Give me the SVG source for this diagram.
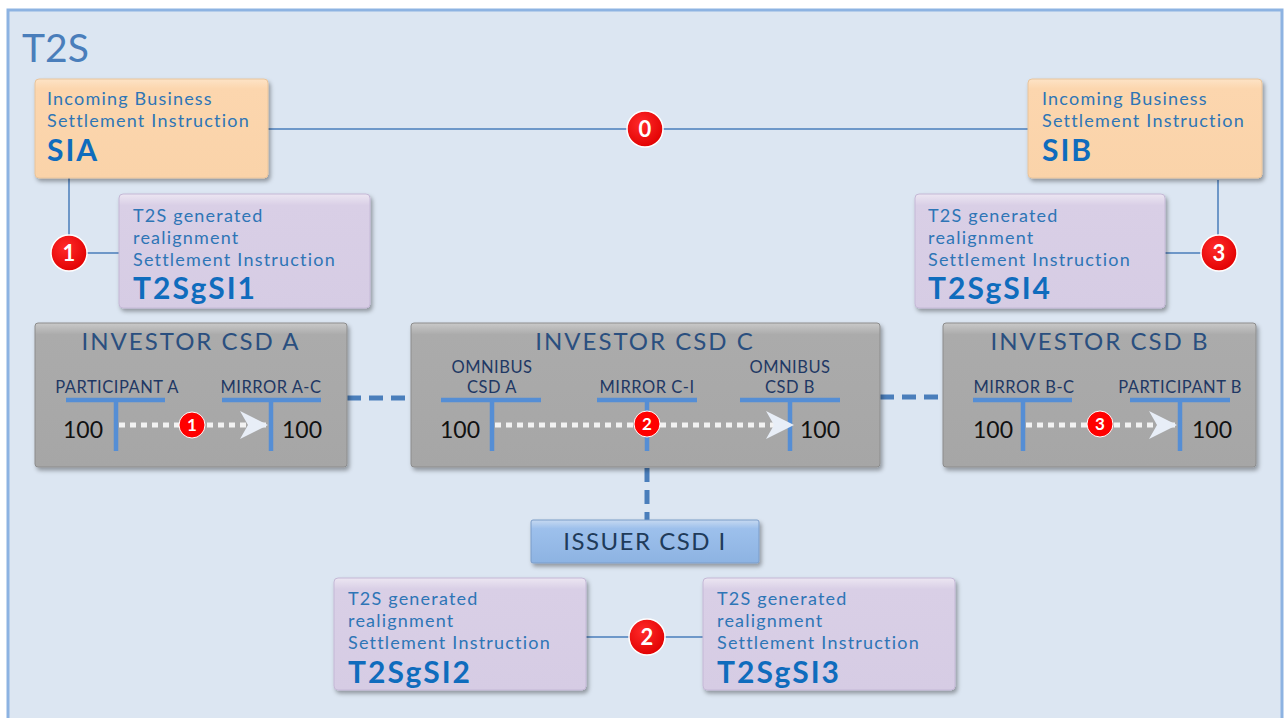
<svg xmlns="http://www.w3.org/2000/svg" width="1287" height="718" viewBox="0 0 1287 718">
<style>
.t{font-family:Lato,"Open Sans",sans-serif;fill:#2e75b6;font-size:18px;letter-spacing:1.2px}
.tb{font-family:Lato,"Open Sans",sans-serif;fill:#0f6cbd;font-size:30px;font-weight:bold;letter-spacing:2px}
.ttl{font-family:Lato,"Open Sans",sans-serif;fill:#2a4f7f;font-size:24px;letter-spacing:2px;text-anchor:middle}
.acc{font-family:Lato,"Open Sans",sans-serif;fill:#1f3864;font-size:16.5px;letter-spacing:0.5px;text-anchor:middle}
.num{font-family:Lato,"Open Sans",sans-serif;fill:#111;font-size:23px}
.bn{font-family:Lato,"Open Sans",sans-serif;fill:#fff;font-weight:bold;text-anchor:middle}
.ln{stroke:#4a7ebb;stroke-width:1.5;fill:none}
.dash{stroke:#4a7ebb;stroke-width:5;stroke-dasharray:14,8;fill:none}
.bar{stroke:#558ed5;stroke-width:4.5;fill:none}
.dot{stroke:#f2f2f2;stroke-width:5;stroke-dasharray:6,5;fill:none}
.orange{fill:url(#gOr);stroke:#e8c49c;stroke-width:1}
.purple{fill:url(#gPu);stroke:#c4b8d6;stroke-width:1}
.gray{fill:url(#gGr);stroke:#8c8c8c;stroke-width:1}
.blue{fill:url(#gBl);stroke:#7a9cc8;stroke-width:1}
.bigc{fill:url(#gRed);stroke:#fff;stroke-width:1.5}
</style>
<defs>
<linearGradient id="gOr" x1="0" y1="0" x2="0" y2="1"><stop offset="0" stop-color="#fde3c6"/><stop offset="0.1" stop-color="#fcd6ae"/><stop offset="1" stop-color="#fad3a9"/></linearGradient>
<linearGradient id="gPu" x1="0" y1="0" x2="0" y2="1"><stop offset="0" stop-color="#ece6f2"/><stop offset="0.1" stop-color="#d9cfe6"/><stop offset="1" stop-color="#d6cce4"/></linearGradient>
<linearGradient id="gGr" x1="0" y1="0" x2="0" y2="1"><stop offset="0" stop-color="#c9c9c9"/><stop offset="0.08" stop-color="#ababab"/><stop offset="1" stop-color="#a6a6a6"/></linearGradient>
<linearGradient id="gBl" x1="0" y1="0" x2="0" y2="1"><stop offset="0" stop-color="#c6d9f1"/><stop offset="0.2" stop-color="#9dc0ec"/><stop offset="1" stop-color="#8db3e2"/></linearGradient>
<radialGradient id="gRed" cx="0.4" cy="0.35" r="0.7"><stop offset="0" stop-color="#ff2a2a"/><stop offset="1" stop-color="#e00000"/></radialGradient>
<filter id="sh" x="-10%" y="-10%" width="125%" height="130%"><feDropShadow dx="2" dy="3" stdDeviation="2" flood-color="#000" flood-opacity="0.35"/></filter>
<marker id="arr" viewBox="0 0 28 28" refX="26" refY="14" markerWidth="28" markerHeight="28" markerUnits="userSpaceOnUse" orient="auto"><path d="M0,0 L28,14 L0,28 L8,14 Z" fill="#e8eef7"/></marker>
</defs>

<rect x="8" y="10" width="1274" height="720" fill="#dce6f2" stroke="#8db3e2" stroke-width="3"/>
<text x="22" y="62" font-family="Lato,'Open Sans',sans-serif" font-size="39" fill="#4a7ebb">T2S</text>

<g id="connectors">
<line class="ln" x1="268" y1="129" x2="1028" y2="129"/>
<polyline class="ln" points="69,178 69,253 119,253"/>
<polyline class="ln" points="1218,180 1218,253 1165,253"/>
<line class="ln" x1="586" y1="637" x2="703" y2="637"/>
<line class="dash" x1="347" y1="398" x2="411" y2="398"/>
<line class="dash" x1="880" y1="397" x2="943" y2="397"/>
<line class="dash" x1="647" y1="468" x2="647" y2="520"/>
</g>

<g id="SIA">
<rect class="orange" x="35" y="79" width="233" height="99" rx="4" filter="url(#sh)"/>
<text class="t" x="47" y="105">Incoming Business</text>
<text class="t" x="47" y="127">Settlement Instruction</text>
<text class="tb" x="47" y="161">SIA</text>
</g>

<g id="SIB">
<rect class="orange" x="1028" y="79" width="234" height="99" rx="4" filter="url(#sh)"/>
<text class="t" x="1042" y="105">Incoming Business</text>
<text class="t" x="1042" y="127">Settlement Instruction</text>
<text class="tb" x="1042" y="161">SIB</text>
</g>

<g id="T2SgSI1">
<rect class="purple" x="119" y="194" width="251" height="114" rx="4" filter="url(#sh)"/>
<text class="t" x="133" y="222">T2S generated</text>
<text class="t" x="133" y="244">realignment</text>
<text class="t" x="133" y="266">Settlement Instruction</text>
<text class="tb" x="133" y="299">T2SgSI1</text>
</g>

<g id="T2SgSI4">
<rect class="purple" x="915" y="194" width="250" height="114" rx="4" filter="url(#sh)"/>
<text class="t" x="928" y="222">T2S generated</text>
<text class="t" x="928" y="244">realignment</text>
<text class="t" x="928" y="266">Settlement Instruction</text>
<text class="tb" x="928" y="299">T2SgSI4</text>
</g>

<g id="badge0"><circle class="bigc" cx="645" cy="129" r="18"/><text class="bn" x="645" y="137" font-size="22">0</text></g>
<g id="badge1"><circle class="bigc" cx="69" cy="253" r="18"/><text class="bn" x="69" y="261" font-size="22">1</text></g>
<g id="badge3"><circle class="bigc" cx="1219" cy="253" r="18"/><text class="bn" x="1219" y="261" font-size="22">3</text></g>

<g id="investorA">
<rect class="gray" x="35" y="323" width="312" height="144" rx="3" filter="url(#sh)"/>
<text class="ttl" x="191" y="350">INVESTOR CSD A</text>
<text class="acc" x="117" y="393">PARTICIPANT A</text>
<text class="acc" x="271" y="393">MIRROR A-C</text>
<line class="bar" x1="66" y1="400" x2="165" y2="400"/>
<line class="bar" x1="116" y1="400" x2="116" y2="451"/>
<line class="bar" x1="222" y1="400" x2="321" y2="400"/>
<line class="bar" x1="271" y1="400" x2="271" y2="451"/>
<text class="num" x="63" y="438">100</text>
<text class="num" x="282" y="438">100</text>
<line class="dot" x1="119" y1="425" x2="266" y2="425" marker-end="url(#arr)"/>
<circle fill="#f00" stroke="#fff" stroke-width="1" cx="192" cy="425" r="13"/><text class="bn" x="192" y="431" font-size="17">1</text>
</g>

<g id="investorC">
<rect class="gray" x="411" y="323" width="469" height="144" rx="3" filter="url(#sh)"/>
<text class="ttl" x="645" y="350">INVESTOR CSD C</text>
<text class="acc" x="492" y="373">OMNIBUS</text>
<text class="acc" x="492" y="393">CSD A</text>
<text class="acc" x="647" y="393">MIRROR C-I</text>
<text class="acc" x="790" y="373">OMNIBUS</text>
<text class="acc" x="790" y="393">CSD B</text>
<line class="bar" x1="441" y1="400" x2="541" y2="400"/>
<line class="bar" x1="492" y1="400" x2="492" y2="451"/>
<line class="bar" x1="597" y1="400" x2="697" y2="400"/>
<line class="bar" x1="647" y1="400" x2="647" y2="451"/>
<line class="bar" x1="740" y1="400" x2="840" y2="400"/>
<line class="bar" x1="790" y1="400" x2="790" y2="451"/>
<text class="num" x="440" y="438">100</text>
<text class="num" x="800" y="438">100</text>
<line class="dot" x1="495" y1="425" x2="792" y2="425" marker-end="url(#arr)"/>
<circle fill="#f00" stroke="#fff" stroke-width="1" cx="647" cy="424" r="13"/><text class="bn" x="647" y="430" font-size="17">2</text>
</g>

<g id="investorB">
<rect class="gray" x="943" y="323" width="313" height="144" rx="3" filter="url(#sh)"/>
<text class="ttl" x="1100" y="350">INVESTOR CSD B</text>
<text class="acc" x="1024" y="393">MIRROR B-C</text>
<text class="acc" x="1180" y="393">PARTICIPANT B</text>
<line class="bar" x1="973" y1="400" x2="1072" y2="400"/>
<line class="bar" x1="1023" y1="400" x2="1023" y2="451"/>
<line class="bar" x1="1130" y1="400" x2="1230" y2="400"/>
<line class="bar" x1="1180" y1="400" x2="1180" y2="451"/>
<text class="num" x="973" y="438">100</text>
<text class="num" x="1192" y="438">100</text>
<line class="dot" x1="1026" y1="425" x2="1175" y2="425" marker-end="url(#arr)"/>
<circle fill="#f00" stroke="#fff" stroke-width="1" cx="1100" cy="424" r="13"/><text class="bn" x="1100" y="430" font-size="17">3</text>
</g>

<g id="issuer">
<rect class="blue" x="531" y="520" width="228" height="43" rx="2" filter="url(#sh)"/>
<text x="645" y="550" font-family="Lato,'Open Sans',sans-serif" font-size="24" fill="#1f3b5a" text-anchor="middle" letter-spacing="1.5">ISSUER CSD I</text>
</g>

<g id="T2SgSI2">
<rect class="purple" x="334" y="578" width="252" height="112" rx="4" filter="url(#sh)"/>
<text class="t" x="348" y="605">T2S generated</text>
<text class="t" x="348" y="627">realignment</text>
<text class="t" x="348" y="649">Settlement Instruction</text>
<text class="tb" x="348" y="683">T2SgSI2</text>
</g>

<g id="T2SgSI3">
<rect class="purple" x="703" y="578" width="252" height="112" rx="4" filter="url(#sh)"/>
<text class="t" x="717" y="605">T2S generated</text>
<text class="t" x="717" y="627">realignment</text>
<text class="t" x="717" y="649">Settlement Instruction</text>
<text class="tb" x="717" y="683">T2SgSI3</text>
</g>

<g id="badge2"><circle class="bigc" cx="647" cy="637" r="18"/><text class="bn" x="647" y="645" font-size="22">2</text></g>
</svg>
